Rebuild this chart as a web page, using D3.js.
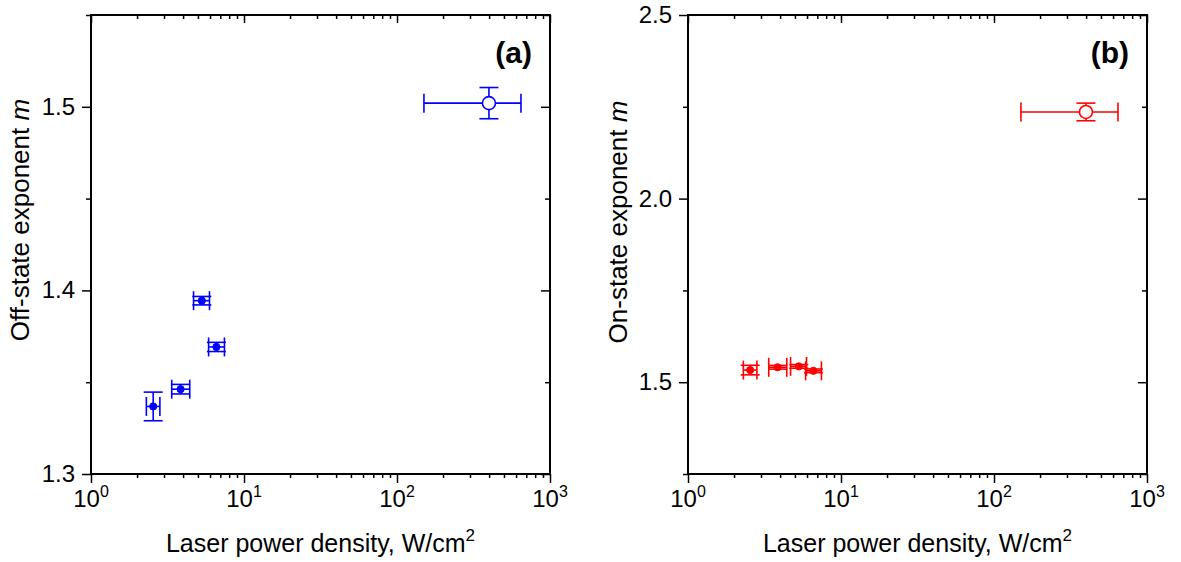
<!DOCTYPE html>
<html><head><meta charset="utf-8">
<script src="https://cdn.jsdelivr.net/npm/d3@7"></script>
<style>body{margin:0;background:#fff}text{font-family:"Liberation Sans",Arial,sans-serif}</style>
</head><body><svg id="c" width="1181" height="562"></svg>
<script>
// Shared laser power density (W/cm^2)
const power    = [2.55, 3.85, 5.3, 6.6, 399];
const powerLo  = [2.3, 3.37, 4.68, 5.87, 150];
const powerHi  = [2.82, 4.42, 5.95, 7.45, 646];
// (a) off-state exponent
const offM     = [1.3368, 1.3462, 1.3944, 1.3692, 1.5020];
const offErr   = [0.0078, 0.0026, 0.0023, 0.0025, 0.0085];
// (b) on-state exponent
const onM      = [1.533, 1.5406, 1.543, 1.531, 2.236];
const onErr    = [0.013, 0.005, 0.005, 0.005, 0.024];
const xTicks   = [1, 10, 100, 1000];
const aTicks   = [1.3, 1.4, 1.5];
const aMinor   = [1.35, 1.45, 1.55];
const bTicks   = [1.5, 2.0, 2.5];
const bMinor   = [1.25, 1.75, 2.25];

const svg = d3.select("#c");
const plotTop = 15, plotBottom = 474;

function panel(opt){
  const x = d3.scaleLog().domain([1,1000]).range([opt.left, opt.right]);
  const y = d3.scaleLinear().domain(opt.ydom).range([plotBottom, plotTop]);
  const g = svg.append("g");
  const minorX = [];
  for (let d=1; d<1000; d*=10) for (let k=2;k<10;k++) minorX.push(d*k);
  const col = opt.color;
  // bottom axis (outward)
  const bx = g.append("g").attr("transform",`translate(0,${plotBottom})`);
  bx.call(d3.axisBottom(x).tickValues(minorX).tickSize(4).tickFormat(""));
  bx.append("g").call(d3.axisBottom(x).tickValues(xTicks).tickSize(9).tickFormat(""));
  // top axis (inward)
  const tx = g.append("g").attr("transform",`translate(0,${plotTop})`);
  tx.call(d3.axisBottom(x).tickValues(minorX).tickSize(4).tickFormat(""));
  tx.append("g").call(d3.axisBottom(x).tickValues(xTicks).tickSize(8).tickFormat(""));
  // left axis (outward)
  const ly = g.append("g").attr("transform",`translate(${opt.left},0)`);
  ly.call(d3.axisLeft(y).tickValues(opt.minor).tickSize(5).tickFormat(""));
  ly.append("g").call(d3.axisLeft(y).tickValues(opt.ticks).tickSize(9).tickFormat(""));
  // right axis (inward)
  const ry = g.append("g").attr("transform",`translate(${opt.right},0)`);
  ry.call(d3.axisLeft(y).tickValues(opt.minor).tickSize(5).tickFormat(""));
  ry.append("g").call(d3.axisLeft(y).tickValues(opt.ticks).tickSize(9).tickFormat(""));
  g.selectAll(".domain").remove();
  g.selectAll(".tick line").attr("stroke","#000").attr("stroke-width",1.5);
  g.append("rect").attr("x",opt.left).attr("y",plotTop).attr("width",opt.right-opt.left).attr("height",plotBottom-plotTop)
    .attr("fill","none").attr("stroke","#000").attr("stroke-width",2);
  // tick labels
  xTicks.forEach((t,i)=>{
    const tt = g.append("text").attr("x",x(t)).attr("y",507).attr("text-anchor","middle").attr("font-size",24);
    tt.append("tspan").text("10");
    tt.append("tspan").attr("dy",-10).attr("font-size",16).text(String(i));
  });
  opt.ticks.forEach(t=>{
    g.append("text").attr("x",opt.left-16).attr("y",y(t)+8).attr("text-anchor","end").attr("font-size",24).text(d3.format(opt.fmt)(t));
  });
  // axis titles
  const xt = g.append("text").attr("x",(opt.left+opt.right)/2).attr("y",552).attr("text-anchor","middle").attr("font-size",25);
  xt.append("tspan").text("Laser power density, W/cm");
  xt.append("tspan").attr("dy",-11).attr("font-size",17).text("2");
  const yt = g.append("text").attr("transform",`translate(${opt.ytx},${opt.ytc}) rotate(-90)`).attr("text-anchor","middle").attr("font-size",26);
  yt.append("tspan").text(opt.ytitle+" ");
  yt.append("tspan").attr("font-style","italic").text("m");
  g.append("text").attr("x",opt.right-18).attr("y",63).attr("text-anchor","end").attr("font-size",30).attr("font-weight","bold").text(opt.tag);
  // error bars
  const cap = 9.5;
  const eb = g.append("g").attr("stroke",col).attr("stroke-width",1.6).attr("fill","none");
  power.forEach((p,i)=>{
    const cx = x(p), cy = y(opt.vals[i]);
    const x0 = x(powerLo[i]), x1 = x(powerHi[i]);
    const y0 = y(opt.vals[i]-opt.err[i]), y1 = y(opt.vals[i]+opt.err[i]);
    eb.append("line").attr("x1",x0).attr("x2",x1).attr("y1",cy).attr("y2",cy);
    eb.append("line").attr("x1",x0).attr("x2",x0).attr("y1",cy-cap).attr("y2",cy+cap);
    eb.append("line").attr("x1",x1).attr("x2",x1).attr("y1",cy-cap).attr("y2",cy+cap);
    eb.append("line").attr("x1",cx).attr("x2",cx).attr("y1",y0).attr("y2",y1);
    eb.append("line").attr("x1",cx-cap).attr("x2",cx+cap).attr("y1",y0).attr("y2",y0);
    eb.append("line").attr("x1",cx-cap).attr("x2",cx+cap).attr("y1",y1).attr("y2",y1);
  });
  // markers
  power.forEach((p,i)=>{
    const open = i===power.length-1;
    g.append("circle").attr("cx",x(p)).attr("cy",y(opt.vals[i])).attr("r",open?6.5:3.6)
      .attr("fill",open?"#fff":col).attr("stroke",col).attr("stroke-width",open?1.6:1);
  });
}

panel({left:91,right:550,ydom:[1.3,1.55],ticks:aTicks,minor:aMinor,fmt:".1f",vals:offM,err:offErr,
  color:"#0000ff",ytitle:"Off-state exponent",ytx:29,ytc:220,tag:"(a)"});
panel({left:688,right:1147,ydom:[1.25,2.5],ticks:bTicks,minor:bMinor,fmt:".1f",vals:onM,err:onErr,
  color:"#ff0000",ytitle:"On-state exponent",ytx:627,ytc:222,tag:"(b)"});
</script></body></html>
